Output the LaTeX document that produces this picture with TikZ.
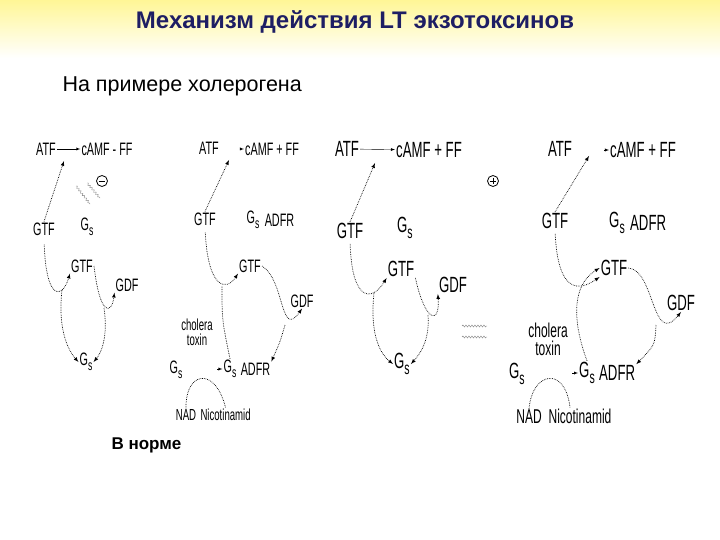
\documentclass[tikz,border=0pt]{standalone}
\usepackage{fontspec}
\setmainfont{Liberation Sans}
\setsansfont{Liberation Sans}
\newfontfamily\narrowfont[FakeStretch=0.6]{Liberation Sans}
\usetikzlibrary{positioning,decorations.pathmorphing}
\definecolor{titleblue}{RGB}{30,30,100}
\definecolor{bandyellow}{RGB}{255,246,150}
\newcommand{\Gs}{G\raisebox{-0.55ex}{\scalebox{0.8}{s}}}
\tikzset{
  lbl/.style={font=\narrowfont\fontsize{18}{18}\selectfont, inner sep=1pt},
  lblbig/.style={font=\narrowfont\fontsize{22}{22}\selectfont, inner sep=1pt},
  lblmid/.style={font=\narrowfont\fontsize{20}{20}\selectfont, inner sep=1pt},
  lblsm/.style={font=\narrowfont\fontsize{16}{16}\selectfont, inner sep=1pt},
  flow/.style={densely dotted, line width=0.7pt, -latex},
  dots/.style={densely dotted, line width=0.7pt},
  wave/.style={decorate, decoration={snake, amplitude=1pt, segment length=3pt}, gray},
  sign/.style={circle, draw, line width=0.8pt, minimum size=11pt, inner sep=0pt},
}
\begin{document}
\begin{tikzpicture}[x=1pt,y=-1pt]
    \useasboundingbox (0,0) rectangle (720,540);
    \shade[top color=bandyellow, bottom color=white] (0,0) rectangle (720,58);

    \node[font=\bfseries\fontsize{24}{24}\selectfont, text=titleblue] (title) at (355,22) {Механизм действия LT экзотоксинов};
    \node[font=\fontsize{21.5}{21.5}\selectfont, anchor=west] (sub) at (59,86) {На примере холерогена};
    \node[font=\bfseries\fontsize{17}{17}\selectfont, anchor=west] (norm) at (108,445) {В норме};

    \node[lbl] (atfA) at (46,149) {ATF};
    \node[lbl] (campA) at (107,149) {cAMF - FF};
    \draw[-latex] (atfA) -- (campA);
    \coordinate (hitA) at (64,161);
    \node[lbl] (gtfA1) at (44,229) {GTF};
    \node[lbl] (gsA1) at (87,227) {\Gs};
    \draw[flow] (gtfA1.north) -- (hitA);
    \node[sign] (minusA) at (102,181) {};
    \draw[line width=0.8pt] ([xshift=2.5pt]minusA.west) -- ([xshift=-2.5pt]minusA.east);
    \draw[wave] (76,186) -- (90,204);
    \draw[wave] (87,183) -- (100,198);
    \node[lbl] (gtfA2) at (82,266) {GTF};
    \node[lbl] (gdfA) at (127,285) {GDF};
    \node[lbl] (gsA2) at (86,362) {\Gs};
    \coordinate (dipA1) at (62,290);
    \coordinate (dipA2) at (104,308);
    \draw[flow, shorten <=8pt] (gtfA1.south) .. controls (46,300) and (62,300) .. (gtfA2.south west);
    \draw[flow] (gtfA2.east) .. controls (100,318) and (112,314) .. (gdfA.south west);
    \draw[flow] (dipA1) .. controls (58,325) and (66,348) .. (gsA2.west);
    \draw[flow] (dipA2) .. controls (108,335) and (102,352) .. (gsA2.east);

    \node[lbl] (atfB) at (209,148) {ATF};
    \node[lbl] (campB) at (272,149) {cAMF + FF};
    \draw[-latex] ([xshift=-4pt]campB.west) -- (campB.west);
    \coordinate (hitB) at (229,160);
    \node[lbl] (gtfB1) at (205,219) {GTF};
    \node[lbl] (gsB1) at (253,220) {\Gs};
    \node[lbl, right=3pt of gsB1] (adfrB1) {ADFR};
    \draw[flow] (gtfB1.north) -- (hitB);
    \node[lbl] (gtfB2) at (250,266) {GTF};
    \node[lbl] (gdfB) at (302,301) {GDF};
    \node[lblsm] (cholB) at (197,325) {cholera};
    \node[lblsm, below=1pt of cholB] (toxB) {toxin};
    \node[lbl] (gsB2) at (176,370) {\Gs};
    \node[lbl] (gsB3) at (230,369) {\Gs};
    \node[lbl, right=2pt of gsB3] (adfrB2) {ADFR};
    \node[lblsm] (nadB) at (186,415) {NAD};
    \node[lblsm, right=2pt of nadB] (nicB) {Nicotinamid};
    \coordinate (dipB1) at (222,286);
    \coordinate (dipB2) at (285,325);
    \draw[flow, shorten <=6pt] (gtfB1.south) .. controls (208,288) and (226,292) .. (gtfB2.south west);
    \draw[flow] (gtfB2.east) .. controls (285,280) and (280,340) .. (gdfB.south);
    \draw[flow] (dipB2) .. controls (280,342) .. (adfrB2.north east);
    \draw[dots] (gsB3.north) .. controls (222,320) .. (dipB1);
    \draw[-latex] ([xshift=-5pt]gsB3.west) -- (gsB3.west);
    \draw[dots] (nadB.north) .. controls (185,372) and (215,365) .. (nicB.north);

    \node[lblbig] (atfC) at (347,149) {ATF};
    \node[lblbig] (campC) at (429,150) {cAMF + FF};
    \draw[-latex] (atfC) -- (campC);
    \node[sign] (plusC) at (493,181) {};
    \draw[line width=0.8pt] ([xshift=2.5pt]plusC.west) -- ([xshift=-2.5pt]plusC.east);
    \draw[line width=0.8pt] ([yshift=-2.5pt]plusC.north) -- ([yshift=2.5pt]plusC.south);
    \node[lblbig] (gtfC1) at (350,231) {GTF};
    \node[lblbig] (gsC1) at (405,228) {\Gs};
    \coordinate (hitC) at (375,163);
    \draw[flow] (gtfC1.north) -- (hitC);
    \node[lblbig] (gtfC2) at (401,269) {GTF};
    \node[lblbig] (gdfC) at (453,285) {GDF};
    \node[lblbig] (gsC2) at (402,364) {\Gs};
    \coordinate (dipC1) at (374,293);
    \coordinate (dipC2) at (428,315);
    \draw[flow, shorten <=4pt] (gtfC1.south) .. controls (352,302) and (372,302) .. (gtfC2.south west);
    \draw[flow] (gtfC2.south east) .. controls (425,322) and (440,326) .. (gdfC.south west);
    \draw[flow] (dipC1) .. controls (370,330) and (378,352) .. (gsC2.west);
    \draw[flow] (dipC2) .. controls (430,340) and (420,354) .. (gsC2.east);
    \draw[wave] (462,326) -- (487,326);
    \draw[wave] (462,337) -- (487,337);

    \node[lblbig] (atfD) at (560,149) {ATF};
    \node[lblbig] (campD) at (643,150) {cAMF + FF};
    \draw[-latex] ([xshift=-5pt]campD.west) -- (campD.west);
    \node[lblbig] (gtfD1) at (555,221) {GTF};
    \node[lblbig] (gsD1) at (617,223) {\Gs};
    \node[lblbig, right=3pt of gsD1] (adfrD1) {ADFR};
    \coordinate (hitD) at (589,156);
    \draw[flow] (gtfD1.north) -- (hitD);
    \node[lblbig] (gtfD2) at (614,268) {GTF};
    \node[lblbig] (gdfD) at (681,303) {GDF};
    \node[lblmid] (cholD) at (548,330) {cholera};
    \node[lblmid, below=1pt of cholD] (toxD) {toxin};
    \node[lblbig] (gsD2) at (517,374) {\Gs};
    \node[lblbig] (gsD3) at (587,373) {\Gs};
    \node[lblbig, right=2pt of gsD3] (adfrD2) {ADFR};
    \node[lblmid] (nadD) at (529,417) {NAD};
    \node[lblmid] (nicD) at (580,416) {Nicotinamid};
    \coordinate (dipD) at (656,325);
    \draw[flow, shorten <=4pt] (gtfD1.south) .. controls (558,292) and (578,292) .. (gtfD2.south west);
    \draw[flow] (gsD3.north) .. controls (572,320) and (572,285) .. (gtfD2.west);
    \draw[flow] (gtfD2.east) .. controls (655,270) and (652,348) .. (gdfD.south);
    \draw[flow] (dipD) .. controls (655,345) .. (adfrD2.north east);
    \draw[-latex] ([xshift=-6pt]gsD3.west) -- (gsD3.west);
    \draw[dots] (nadD.north) .. controls (532,372) and (565,365) .. ([xshift=-10pt]nicD.north);
\end{tikzpicture}
\end{document}
